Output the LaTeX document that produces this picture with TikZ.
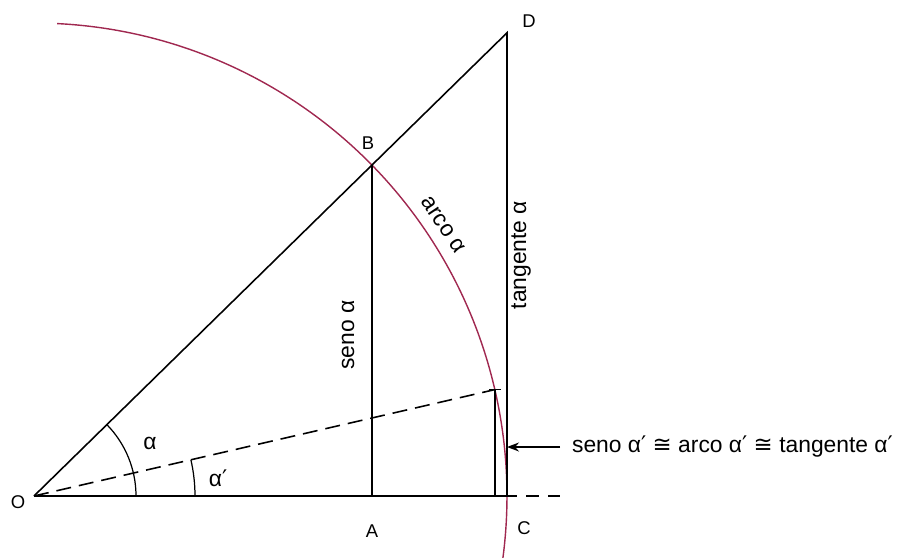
\documentclass[tikz,border=0pt]{standalone}
\usepackage{fontspec}
\setmainfont{Liberation Sans}
\newfontfamily\symfont{DejaVu Sans}
\usetikzlibrary{arrows.meta}
\definecolor{arcred}{RGB}{160,40,80}
\newcommand{\prm}{{\symfont\char"2032}}
\newcommand{\cng}{{\symfont\char"2245}}
\begin{document}
\begin{tikzpicture}[
    seg/.style={line width=0.9pt, draw=black},
    dashseg/.style={line width=0.9pt, draw=black, dash pattern=on 0.3cm off 0.16cm},
    circ/.style={line width=0.8pt, draw=arcred},
    angarc/.style={line width=0.7pt, draw=black},
    pt/.style={font=\fontsize{10.5}{12}\selectfont, inner sep=1pt},
    lbl/.style={font=\fontsize{13}{15}\selectfont, inner sep=1pt},
]
\useasboundingbox (-0.68,-1.22) rectangle (17.28,9.92);
% points of the figure
\coordinate (O) at (0,0);
\coordinate (B) at (44.4:9.46);
\coordinate (A) at (B |- O);
\coordinate (C) at (9.46,0);
\coordinate (D) at (9.46,{9.46*tan(44.4)});
\coordinate (P) at (13:9.46);
\coordinate (Q) at (P |- O);
\coordinate (E) at (9.66,0);
\coordinate (F) at (10.52,0);
\coordinate (T) at (10.52,0.98);
% unit circle arc
\draw[circ] (87.2:9.46) arc[start angle=87.2, end angle=-7.6, radius=9.46];
% lines
\draw[seg] (O) -- (D) -- (C);
\draw[seg] (B) -- (A);
\draw[seg] (O) -- (E);
\draw[seg, dash pattern=on 0.26cm off 0.18cm, dash phase=0.26cm] (E) -- (F);
\draw[dashseg] (O) -- (P);
\draw[seg] (P) -- (Q);
\draw[seg] ([xshift=-0.12cm]P) -- ([xshift=0.12cm]P);
% angles
\draw[angarc] (2.04,0) arc[start angle=0, end angle=44.4, radius=2.04];
\draw[angarc] (3.22,0) arc[start angle=0, end angle=13, radius=3.22];
% labels
\node[pt] (lO) at (-0.32,-0.12) {O};
\node[pt] (lA) at (6.76,-0.7) {A};
\node[pt] (lB) at (6.68,7.06) {B};
\node[pt] (lC) at (9.8,-0.64) {C};
\node[pt] (lD) at (9.9,9.5) {D};
\node[lbl] (la) at (2.32,1.06) {α};
\node[lbl] (lap) at (3.68,0.36) {α\prm};
\node[lbl, rotate=90] (sen) at (6.28,3.22) {seno α};
\node[lbl, rotate=90] (tan) at (9.74,4.82) {tangente α};
\node[lbl, rotate=-56.5] (arco) at (33.5:9.82) {arco α};
\node[lbl, anchor=west] (eq) at (10.72,0.98) {seno α\prm\ \cng\ arco α\prm\ \cng\ tangente α\prm};
\draw[seg, -{Stealth[length=2.4mm, width=1.8mm]}] (T) -- (T -| C);
\end{tikzpicture}
\end{document}
